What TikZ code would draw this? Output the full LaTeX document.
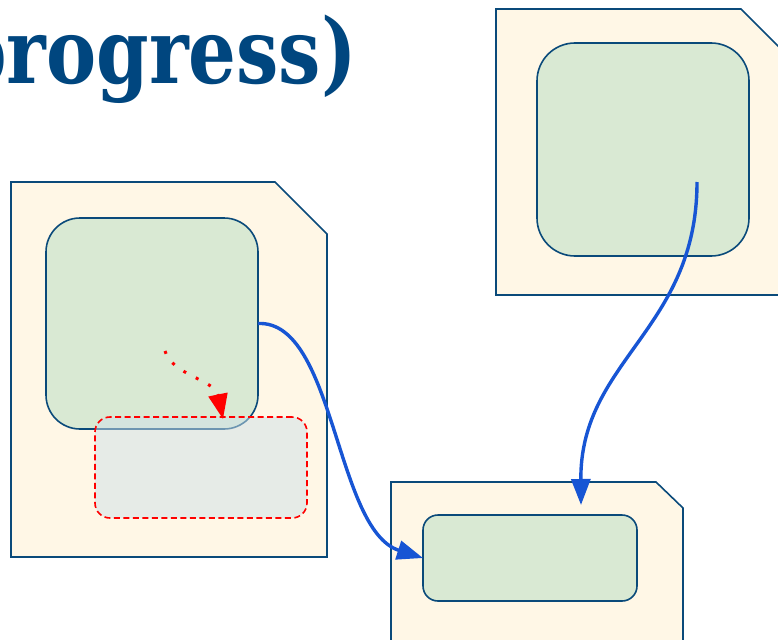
\documentclass[tikz,border=0pt]{standalone}
\usepackage{fontspec}
\newfontfamily\titlefont{DejaVu Serif}
\usetikzlibrary{arrows.meta}
\definecolor{edgeblue}{HTML}{0A4A7A}
\definecolor{titleblue}{HTML}{00467F}
\definecolor{cream}{HTML}{FFF7E6}
\definecolor{boxgreen}{HTML}{D9E9D3}
\definecolor{flowblue}{HTML}{1755D4}
\definecolor{ghostfill}{RGB}{206,225,233}
\tikzset{
  card/.style={draw=edgeblue, line width=1.6pt, fill=cream, line join=miter},
  greenbox/.style={draw=edgeblue, line width=1.6pt, fill=boxgreen, rectangle, inner sep=0pt, outer sep=0pt},
  ghostbox/.style={draw=red, line width=1.6pt, dash pattern=on 6pt off 3.5pt, fill=ghostfill, fill opacity=0.5, rectangle, inner sep=0pt, outer sep=0pt, rounded corners=15pt, minimum width=212pt, minimum height=101pt},
  flow/.style={draw=flowblue, line width=3.4pt, -{Triangle[length=26pt,width=19pt]}},
  ghostflow/.style={draw=red, line width=3pt, dash pattern=on 3pt off 11pt, -{Triangle[length=25pt,width=19pt,sep=0pt]}},
}
\begin{document}
\begin{tikzpicture}[x=1pt,y=-1pt]
\useasboundingbox (0,0) rectangle (778,639);
\clip (0,0) rectangle (778,639);
% title
\node[anchor=base east, inner sep=0pt, text=titleblue] (title) at (357,84)
  {\scalebox{0.8}[0.96]{\titlefont\bfseries\fontsize{94}{100}\selectfont progress)}};
% cards
\path[card] (11,182) -- (275,182) -- (327,234) -- (327,557) -- (11,557) -- cycle;
\path[card] (496,9) -- (741,9) -- (800,68) -- (800,295) -- (496,295) -- cycle;
\path[card] (391,482) -- (656,482) -- (683,508) -- (683,700) -- (391,700) -- cycle;
% green boxes
\node[greenbox, rounded corners=34pt, minimum width=212pt, minimum height=211pt] (L) at (152,323.5) {};
\node[greenbox, rounded corners=38pt, minimum width=212pt, minimum height=213pt] (T) at (643,149.5) {};
\node[greenbox, rounded corners=15pt, minimum width=214pt, minimum height=86pt] (B) at (530,558) {};
% ghost box
\node[ghostbox] (G) at (201,467.5) {};
% coordinates
\coordinate (s2) at (697,182);
\coordinate (e2) at (581,505);
\coordinate (r1) at (165,351);
\coordinate (r2) at (223,419);
% connectors
\draw[flow] (L.east) .. controls (335,320) and (335,530) .. (B.west);
\draw[flow] (s2) .. controls (697,330) and (580,360) .. (e2);
\draw[ghostflow] (r1) .. controls (172,375) and (215,380) .. (r2);
\end{tikzpicture}
\end{document}
